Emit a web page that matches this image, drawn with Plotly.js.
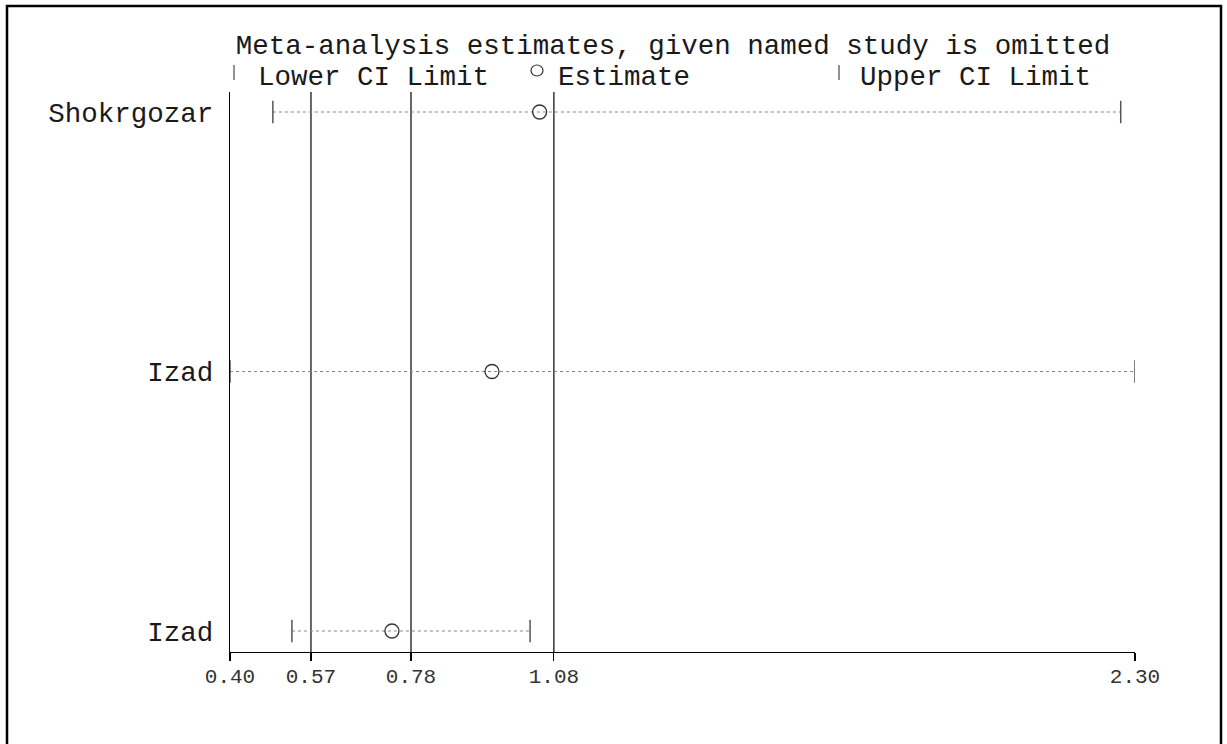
<!DOCTYPE html>
<html>
<head>
<meta charset="utf-8">
<script src="https://cdn.plot.ly/plotly-3.0.1.min.js"></script>
<style>html,body{margin:0;padding:0;background:#fff;}#chart{width:1227px;height:744px;}</style>
</head>
<body>
<div id="chart"></div>
<script>
// Study omitted (top to bottom as drawn)
const studies = ["Shokrgozar", "Izad", "Izad"];
const rowPos = [3, 2, 1];
const lowerCI = [0.49, 0.40, 0.53];
const estimate = [1.05, 0.95, 0.74];
const upperCI = [2.27, 2.30, 1.03];
// Overall (combined) estimate and CI, drawn as vertical reference lines
const overallLines = [0.57, 0.78, 1.08];
const tickVals = [0.40, 0.57, 0.78, 1.08, 2.30];
const tickText = ["0.40", "0.57", "0.78", "1.08", "2.30"];
const legendLabels = ["Lower CI Limit", "Estimate", "Upper CI Limit"];

const FONT = "Courier New, Courier, 'Nimbus Mono PS', 'Liberation Mono', monospace";
const traces = [];

// dotted CI lines
studies.forEach((s, i) => {
  traces.push({
    type: "scatter", mode: "lines",
    x: [lowerCI[i], upperCI[i]], y: [rowPos[i], rowPos[i]],
    line: {color: "#8a8a8a", width: 1.2, dash: "dot"},
    showlegend: false, hoverinfo: "skip"
  });
});

traces.push({
  type: "scatter", mode: "markers", name: legendLabels[0],
  x: lowerCI, y: rowPos,
  marker: {symbol: "line-ns-open", size: 16, line: {color: "#555", width: 1.5}, color: "#555"}
});
traces.push({
  type: "scatter", mode: "markers", name: legendLabels[1],
  x: estimate, y: rowPos,
  marker: {symbol: "circle-open", size: 14, line: {color: "#333", width: 1.3}, color: "#333"}
});
traces.push({
  type: "scatter", mode: "markers", name: legendLabels[2],
  x: upperCI, y: rowPos,
  marker: {symbol: "line-ns-open", size: 16, line: {color: "#555", width: 1.5}, color: "#555"}
});

const PX = px => (px - 230) / 905;   // pixel -> paper x
const PY = py => (652 - py) / 560;   // pixel -> paper y

const shapes = overallLines.map(v => ({
  type: "line", xref: "x", yref: "paper", x0: v, x1: v, y0: 0, y1: 1,
  line: {color: "#000", width: 1.2}, layer: "below"
}));
// outer frame
shapes.push({
  type: "rect", xref: "paper", yref: "paper",
  x0: PX(7), x1: PX(1221), y0: PY(770), y1: PY(6),
  line: {color: "#000", width: 2.5}, fillcolor: "rgba(0,0,0,0)"
});
// legend keys
shapes.push({type: "line", xref: "paper", yref: "paper", x0: PX(234), x1: PX(234), y0: PY(65), y1: PY(80),
  line: {color: "#555", width: 1.3}});
shapes.push({type: "circle", xref: "paper", yref: "paper", x0: PX(531), x1: PX(543), y0: PY(65), y1: PY(76),
  line: {color: "#333", width: 1.2}});
shapes.push({type: "line", xref: "paper", yref: "paper", x0: PX(839), x1: PX(839), y0: PY(65), y1: PY(80),
  line: {color: "#555", width: 1.3}});

const legendX = [256, 556, 858];
const annotations = legendLabels.map((t, i) => ({
  text: t, xref: "paper", yref: "paper", x: PX(legendX[i]), y: PY(77),
  xanchor: "left", yanchor: "middle", showarrow: false,
  font: {family: FONT, size: 27.5, color: "#1a1a1a"}
}));

const layout = {
  width: 1227, height: 744,
  margin: {l: 230, r: 92, t: 92, b: 92},
  paper_bgcolor: "#fff", plot_bgcolor: "#fff",
  font: {family: FONT, color: "#1a1a1a"},
  title: {
    text: "Meta-analysis estimates, given named study is omitted",
    font: {family: FONT, size: 27.5, color: "#1a1a1a"},
    x: 673 / 1227, xanchor: "center", xref: "container",
    y: 1 - 44 / 744, yanchor: "middle", yref: "container"
  },
  xaxis: {
    range: [0.40, 2.30], tickmode: "array", tickvals: tickVals, ticktext: tickText,
    showgrid: false, zeroline: false, showline: true, linecolor: "#000", linewidth: 1.2,
    ticks: "outside", ticklen: 8, tickcolor: "#000", tickwidth: 1.2,
    ticklabelstandoff: -3,
    tickfont: {family: FONT, size: 21, color: "#333"}
  },
  yaxis: {
    range: [0.919, 3.077], tickmode: "array", tickvals: rowPos, ticktext: studies,
    showgrid: false, zeroline: false, showline: true, linecolor: "#000", linewidth: 1.2,
    ticks: "", ticklabelstandoff: 10,
    tickfont: {family: FONT, size: 27.5, color: "#1a1a1a"}
  },
  showlegend: false,
  annotations: annotations,
  shapes: shapes
};

Plotly.newPlot("chart", traces, layout, {staticPlot: true, displayModeBar: false});
</script>
</body>
</html>
